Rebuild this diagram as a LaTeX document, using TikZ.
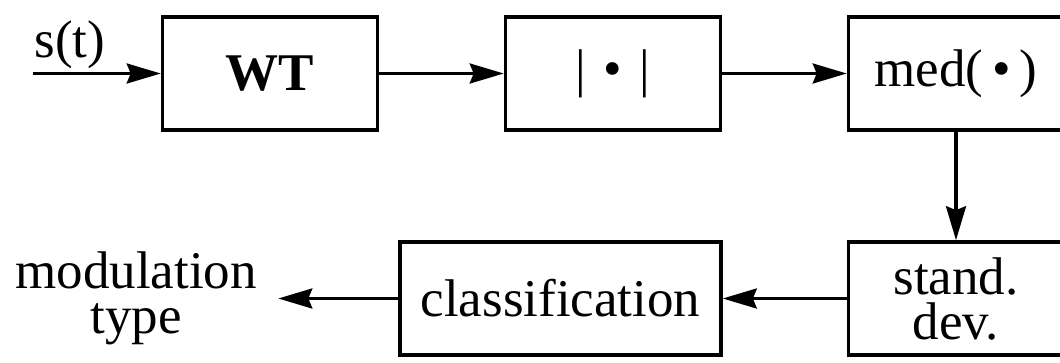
\documentclass[tikz,border=0pt]{standalone}
\usepackage{fontspec}
\setmainfont{Liberation Serif}
\usepackage{tikz}
\usetikzlibrary{arrows.meta,positioning}

\begin{document}
\begin{tikzpicture}[->,>={Stealth[length=17pt,width=10pt,inset=2pt]},line width=1.6pt,
                    node distance=171.5pt,font=\fontsize{26.5}{22.5}\selectfont]
	\tikzstyle{block}=[draw,line width=1.8pt,minimum width=107.5pt,minimum height=56.5pt]

	\useasboundingbox (-135pt,-144.75pt) rectangle (395pt,36.75pt);

	\node[block]			(WT)				{\textbf{WT}};
	\node[block]			(abs)	[right of=WT]	{|\hspace{.33em}•\hspace{.33em}|};
	\node[block]			(med)	[right of=abs]	{med(\,•\,)};
	\node[block,align=center]	(dev)	[below of=med, node distance=112.5pt]	{stand.\\dev.};
	\node[block,minimum width=160.5pt]	(class)	[left of=dev, node distance=197.75pt]	{classification};
	\node[align=center,inner xsep=10pt]	(mod)	[left of=class, node distance=212.25pt]	{modulation\\type};
	\coordinate[left of=WT, node distance=118.5pt] (in);
	\node[anchor=base west,inner sep=0pt] (st) at ([yshift=8pt]in) {s(t)};

	\path (in)	edge		(WT)
		(WT)	edge		(abs)
		(abs)	edge		(med)
		(med)	edge		(dev)
		(dev)	edge		(class)
		(class)	edge		(mod);
\end{tikzpicture}
\end{document}
